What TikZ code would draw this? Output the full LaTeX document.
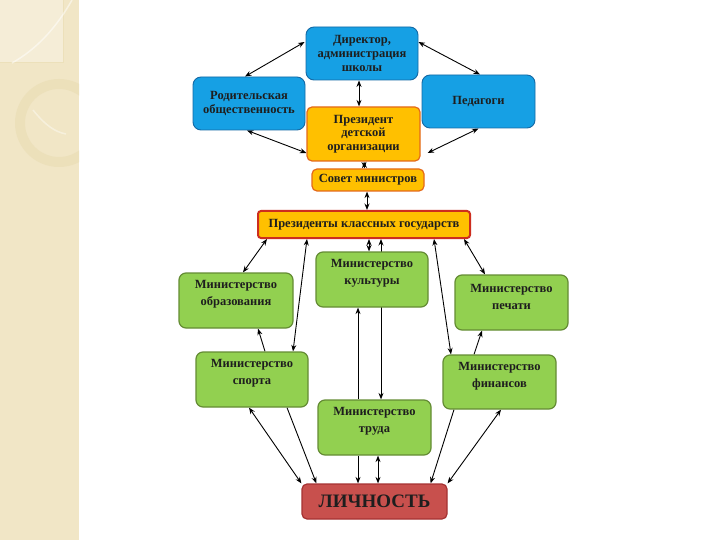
\documentclass[tikz,border=0pt]{standalone}
\usepackage{fontspec}
\setmainfont{Liberation Serif}
\usetikzlibrary{arrows.meta,calc,backgrounds}
\definecolor{bfill}{RGB}{22,160,228}
\definecolor{bline}{RGB}{20,105,165}
\definecolor{ofill}{RGB}{255,192,0}
\definecolor{oline}{RGB}{228,105,25}
\definecolor{rline}{RGB}{205,45,30}
\definecolor{gfill}{RGB}{146,208,80}
\definecolor{gline}{RGB}{100,140,52}
\definecolor{lfill}{RGB}{200,80,77}
\definecolor{lline}{RGB}{165,50,50}
\definecolor{strip}{RGB}{241,230,198}
\definecolor{deco}{RGB}{236,224,186}
\definecolor{txt}{RGB}{30,30,30}
\tikzset{
  tip/.tip={Stealth[length=6.5pt,width=5pt]},
  arr/.style={-tip, line width=0.9pt, black},
  darr/.style={tip-tip, line width=0.9pt, black},
  bbox/.style={draw=bline, fill=bfill, line width=0.9pt, rounded corners=8pt,
    minimum width=112pt, minimum height=53pt, align=center, text=txt,
    font=\fontsize{12.5}{14}\selectfont\bfseries, inner sep=1pt},
  obox/.style={draw=oline, fill=ofill, line width=1.2pt, rounded corners=5pt,
    align=center, text=txt, font=\fontsize{12.5}{13.5}\selectfont\bfseries, inner sep=1pt},
  gbox/.style={draw=gline, fill=gfill, line width=1.2pt, rounded corners=7pt,
    minimum width=112pt, minimum height=55pt},
  gtext/.style={align=center, text=txt, font=\fontsize{12.5}{17}\selectfont\bfseries, yshift=6pt},
  lbox/.style={draw=lline, fill=lfill, line width=1.2pt, rounded corners=5pt,
    minimum width=145pt, minimum height=35pt, text=txt,
    font=\fontsize{19}{20}\selectfont\bfseries}
}
\begin{document}
\begin{tikzpicture}[x=1pt,y=-1pt]
\useasboundingbox (0,0) rectangle (720,540);

% nodes
\node[bbox] (dir) at (362,53.5) {Директор,\\администрация\\школы};
\node[bbox, minimum width=112pt] (rod) at (249,103.5) {Родительская\\общественность};
\node[bbox, minimum width=113pt] (ped) at (478.5,101.5) {Педагоги};
\node[obox, minimum width=113pt, minimum height=54pt] (prez) at (363.5,134) {Президент\\детской\\организации};
\node[obox, minimum width=112pt, minimum height=22pt] (sovet) at (368,180) {Совет министров};
\node[obox, draw=rline, line width=2pt, rounded corners=3pt, minimum width=212pt, minimum height=27pt] (pkg) at (364,224.5) {Президенты классных государств};
\node[gbox, label={[gtext]center:{Министерство\\культуры}}] (kult) at (372,279.5) {};
\node[gbox, minimum width=114pt, label={[gtext]center:{Министерство\\образования}}] (obr) at (236,300.5) {};
\node[gbox, minimum width=113pt, label={[gtext]center:{Министерство\\печати}}] (pech) at (511.5,302.5) {};
\node[gbox, label={[gtext]center:{Министерство\\спорта}}] (sport) at (252,379.5) {};
\node[gbox, minimum width=113pt, minimum height=54pt, label={[gtext]center:{Министерство\\финансов}}] (fin) at (499.5,382) {};
\node[gbox, minimum width=113pt, label={[gtext]center:{Министерство\\труда}}] (trud) at (374.5,427.5) {};
\node[lbox] (lich) at (374.5,501.5) {ЛИЧНОСТЬ};

\begin{scope}[on background layer]
  \fill[white] (0,0) rectangle (720,540);
  % decorative strip
  \begin{scope}
    \clip (0,0) rectangle (79,540);
    \fill[strip] (0,0) rectangle (79,540);
    \fill[white, opacity=0.3] (0,0) rectangle (63,62);
    \draw[deco, line width=0.8pt] (0,62) -- (63,62) -- (63,0);
    \draw[white, opacity=0.5, line width=1.5pt] (72,0) .. controls (55,30) and (35,50) .. (12,63);
    \fill[deco, even odd rule] (59,123) circle (44) (59,123) circle (34);
    \draw[white, opacity=0.4, line width=1.5pt] (33,110) .. controls (45,125) and (55,132) .. (66,134);
  \end{scope}
  % connectors
  \draw[darr] ($(dir.west)+(-1,-11.5)$) -- ($(rod.north)+(-4,0)$);
  \draw[darr] ($(dir.east)+(0,-11.5)$) -- ($(ped.north)+(1.5,0)$);
  \draw[darr] ($(rod.south)+(-2,0)$) -- ($(prez.west)+(0,19)$);
  \draw[darr] (ped.south) -- ($(prez.east)+(7,19)$);
  \draw[darr] ($(dir.south)+(-3,0)$) -- ($(prez.north)+(-4.5,0)$);
  \draw[darr] ($(prez.south)+(0.5,0)$) -- ($(sovet.north)+(-3.5,0)$);
  \draw[darr] ($(sovet.south)+(-1,0)$) -- ($(pkg.north)+(3,0)$);
  \draw[darr] ($(pkg.south west)+(10,0)$) -- ($(obr.north)+(7,0)$);
  \draw[darr] ($(pkg.south west)+(50,0)$) -- ($(sport.north)+(41,0)$);
  \draw[darr] ($(pkg.south)+(5,0)$) -- ($(kult.north)+(-3,0)$);
  \draw[darr] ($(pkg.south)+(17,0)$) -- ($(trud.north)+(6.5,0)$);
  \draw[arr] ($(trud.north)+(-16.5,0)$) -- ($(kult.south)+(-14,0)$);
  \draw[darr] ($(pkg.south west)+(177,0)$) -- ($(fin.north)+(-48.5,0)$);
  \draw[darr] ($(pkg.south east)+(-7,0)$) -- ($(pech.north)+(-26.5,0)$);
  \draw[arr] ($(sport.north)+(13,0)$) -- ($(obr.south)+(22,0)$);
  \draw[arr] ($(fin.north)+(-25.5,0)$) -- ($(pech.south)+(-29.5,0)$);
  \draw[darr] ($(sport.south)+(-3,0)$) -- (lich.north west);
  \draw[arr] ($(sport.south)+(35,0)$) -- ($(lich.north west)+(15,0)$);
  \draw[arr] ($(trud.south)+(-16.5,0)$) -- ($(lich.north)+(-16.5,0)$);
  \draw[darr] ($(trud.south)+(3.5,0)$) -- ($(lich.north)+(3.5,0)$);
  \draw[arr] ($(fin.south)+(-45.5,0)$) -- ($(lich.north east)+(-17,0)$);
  \draw[darr] ($(fin.south)+(1.5,0)$) -- (lich.north east);
\end{scope}
\end{tikzpicture}
\end{document}
